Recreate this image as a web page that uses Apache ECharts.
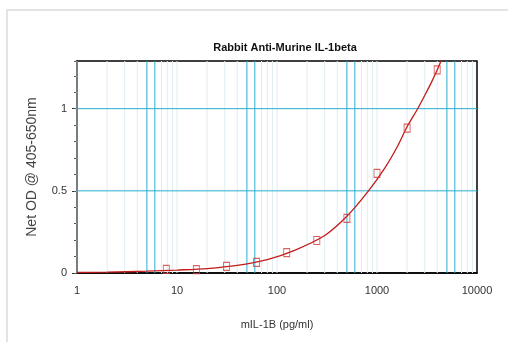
<!DOCTYPE html>
<html><head><meta charset="utf-8">
<script src="https://cdn.jsdelivr.net/npm/echarts@6/dist/echarts.min.js"></script>
<style>html,body{margin:0;padding:0;background:#fff}#c{width:508px;height:342px}</style>
</head><body><div id="c"></div>
<script>
// Standards (measured points)
const concentrations = [7.8125, 15.625, 31.25, 62.5, 125, 250, 500, 1000, 2000, 4000];
const netOD = [0.022, 0.021, 0.04, 0.065, 0.124, 0.198, 0.332, 0.606, 0.882, 1.236];
// Fitted curve
const fitConc = [1, 2, 5, 10, 20, 40, 80, 150, 300, 500, 800, 1200, 1600, 2000, 2500, 3000, 3500, 4000, 4500];
const fitOD = [0.004, 0.005, 0.011, 0.018, 0.027, 0.046, 0.082, 0.138, 0.228, 0.345, 0.49, 0.64, 0.77, 0.89, 0.99, 1.08, 1.16, 1.235, 1.31];
// Grid lines
const majorXLines = [5, 6, 50, 60, 500, 600, 5000, 6000];
const minorXLines = [1,2,3,4,7,8,9,10,20,30,40,70,80,90,100,200,300,400,700,800,900,1000,2000,3000,4000,7000,8000,9000];
const majorYLines = [0.5, 1];
const xTickLabels = [1, 10, 100, 1000, 10000];
const yMin = 0, yMax = 1.29, xMin = 1, xMax = 10000;

const chart = echarts.init(document.getElementById('c'), null, {renderer: 'canvas'});
const narrow = 'Liberation Sans Narrow, Arial Narrow, Liberation Sans, Arial, sans-serif';

function gridLine(data, color, z) {
  return {type: 'line', data: data, silent: true, z: z, symbol: 'none', showSymbol: false,
    lineStyle: {color: color, width: 1}, emphasis: {disabled: true}, animation: false};
}
const gridSeries = []
  .concat(minorXLines.map(v => gridLine([[v, yMin], [v, yMax]], '#dfeef3', 1)))
  .concat(majorXLines.map(v => gridLine([[v, yMin], [v, yMax]], '#2aaed0', 2)))
  .concat(majorYLines.map(v => gridLine([[xMin, v], [xMax, v]], '#2aaed0', 2)));

chart.setOption({
  animation: false,
  backgroundColor: '#fff',
  graphic: [{type: 'rect', shape: {x: 7, y: 10, width: 520, height: 360},
    style: {fill: 'none', stroke: '#e3e3e3', lineWidth: 2}, z: -10}],
  title: {text: 'Rabbit Anti-Murine IL-1beta', left: 280, top: 37, textAlign: 'center',
    textStyle: {fontFamily: narrow, fontSize: 11, fontWeight: 'bold', color: '#111'}},
  grid: {left: 77, right: 31, top: 61, bottom: 69, show: true, borderColor: '#000', borderWidth: 1.5, backgroundColor: '#fff'},
  xAxis: {type: 'log', logBase: 10, min: xMin, max: xMax,
    name: 'mIL-1B (pg/ml)', nameLocation: 'middle', nameGap: 46,
    nameTextStyle: {fontFamily: narrow, fontSize: 11, color: '#333'},
    axisLine: {lineStyle: {color: '#000', width: 1.5}},
    axisTick: {show: false},
    splitLine: {show: false},
    axisLabel: {fontFamily: narrow, fontSize: 11, color: '#333', margin: 12,
      formatter: v => xTickLabels.indexOf(Math.round(v)) >= 0 ? String(Math.round(v)) : ''}},
  yAxis: [
    {type: 'value', min: yMin, max: yMax, interval: 0.5, position: 'left',
      name: 'Net OD @ 405-650nm', nameLocation: 'middle', nameGap: 38,
      nameTextStyle: {fontFamily: 'Liberation Sans, Arial, sans-serif', fontSize: 14, color: '#444'},
      axisLine: {show: true, lineStyle: {color: '#000', width: 1.5}},
      axisTick: {show: true, length: 5, lineStyle: {color: '#333'}},
      splitLine: {show: false},
      axisLabel: {fontFamily: narrow, fontSize: 11, color: '#333', margin: 10, showMaxLabel: false,
        formatter: v => (v > 1.01 ? '' : String(v))}},
    {type: 'value', min: yMin, max: yMax, interval: 0.1, position: 'left',
      axisLine: {show: false}, axisTick: {show: true, length: 3, lineStyle: {color: '#555'}},
      axisLabel: {show: false}, splitLine: {show: false}}
  ],
  series: gridSeries.concat([
    {type: 'line', z: 5, smooth: 0.3, showSymbol: false, symbol: 'none', clip: true,
      lineStyle: {color: '#c41a1a', width: 1.3},
      data: fitConc.map((c, i) => [c, fitOD[i]])},
    {type: 'scatter', z: 6, symbol: 'rect', symbolSize: [6, 8],
      itemStyle: {color: 'rgba(255,255,255,0)', borderColor: '#d03a3a', borderWidth: 1},
      data: concentrations.map((c, i) => [c, netOD[i]])}
  ])
});
</script></body></html>
